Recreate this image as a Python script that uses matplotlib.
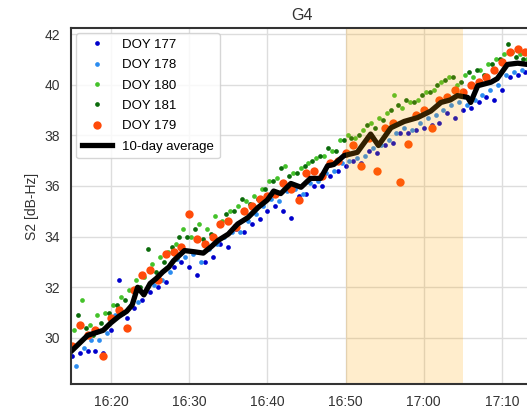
import datetime as dt
import matplotlib
matplotlib.use('Agg')
import matplotlib.pyplot as plt
import matplotlib.dates as mdates
import numpy as np

plt.rcParams['font.family'] = ['Liberation Sans', 'DejaVu Sans']

base = dt.datetime(2018, 6, 26, 16, 15)

# minutes after 16:15
avg_min = [0, 1, 2, 3, 4, 5, 6, 7, 7.7, 8.4, 9.2, 10.0, 10.8, 11.6, 12.4, 13.0, 14.4,
           15.7, 16.8, 17.8, 18.7, 20.0, 21.2, 22.5, 23.8, 25.0, 25.8, 26.7, 28.0, 29.3,
           30.5, 31.8, 32.7, 33.5, 34.8, 36.5, 38.2, 39.2, 40.8, 42.5, 44.2, 45.9, 47.2,
           48.4, 49.3, 50.6, 51.0, 51.9, 53.6, 54.4, 55.7, 57.0, 58.3]
avg_s2 = [29.5, 29.8, 30.1, 30.2, 30.3, 30.6, 30.85, 31.05, 31.3, 32.0, 31.7, 32.15, 32.35,
          32.6, 32.8, 33.05, 33.45, 33.4, 33.35, 33.6, 33.85, 34.1, 34.5, 34.75, 35.15,
          35.45, 35.8, 35.7, 36.1, 35.95, 36.3, 36.3, 36.8, 36.85, 37.2, 37.33, 38.05,
          37.6, 38.3, 38.55, 38.7, 38.96, 39.3, 39.4, 39.57, 39.5, 39.3, 39.96, 40.1,
          40.24, 40.8, 40.85, 40.8]

# one sample per minute, first epoch per day (minutes after 16:15)
doy177 = [29.3, 29.4, 29.5, 29.5, 29.4, 30.3, 32.3, 30.8, 31.2, 31.5, 31.8, 32.0, 32.2,
          32.8, 33.0, 32.8, 32.5, 33.0, 33.2, 33.7, 33.6, 34.3, 34.2, 34.5, 34.7, 35.0,
          35.2, 35.0, 34.75, 35.6, 35.7, 36.0, 36.0, 36.4, 36.6, 36.8, 37.0, 36.9, 37.4,
          37.3, 37.6, 37.7, 38.1, 38.1, 38.2, 38.3, 38.4, 38.5, 38.9, 38.7, 39.0, 39.1,
          39.3, 39.5, 39.4, 39.8, 40.3, 40.4, 40.5]
doy178 = [28.9, 29.6, 29.9, 29.9, 30.2, 30.9, 31.0, 31.3, 31.4, 31.9, 32.1, 32.3, 32.6,
          33.1, 33.2, 33.3, 33.0, 33.5, 33.7, 34.0, 34.2, 34.2, 34.6, 34.9, 35.2, 35.5,
          35.4, 35.8, 35.9, 35.7, 36.1, 36.2, 36.5, 36.6, 36.9, 37.0, 37.1, 37.2, 37.5,
          37.6, 37.8, 38.1, 38.3, 38.2, 38.5, 38.7, 38.8, 39.0, 39.2, 39.3, 39.2, 39.4,
          39.6, 39.8, 40.0, 40.4, 40.5, 40.6]
doy180 = [30.3, 31.5, 30.5, 30.9, 31.0, 31.3, 31.6, 31.9, 32.3, 32.4, 32.9, 33.2, 33.4,
          33.7, 34.3, 34.0, 34.5, 34.3, 34.8, 34.6, 35.0, 35.2, 35.4, 35.6, 35.9, 36.2,
          36.3, 36.8, 36.5, 36.7, 36.9, 37.1, 37.2, 37.4, 37.8, 38.0, 37.9, 38.2, 38.5,
          38.7, 38.9, 39.6, 39.1, 39.3, 39.4, 39.7, 39.8, 40.1, 40.3, 40.0, 40.4, 40.3,
          40.6, 40.8, 41.0, 41.2, 41.3, 41.2, 41.0]
doy181 = [30.9, 30.4, 30.1, 30.6, 31.0, 31.3, 31.5, 31.9, 32.0, 33.5, 32.6, 33.0, 33.6,
          34.0, 34.0, 34.3, 33.9, 34.1, 34.5, 34.9, 35.0, 35.5, 35.3, 35.5, 35.9, 36.2,
          36.7, 36.4, 36.5, 36.8, 37.0, 37.2, 37.5, 37.4, 37.8, 37.9, 38.0, 38.4, 38.3,
          38.6, 39.0, 39.2, 39.4, 39.3, 39.6, 39.7, 40.0, 40.2, 40.3, 40.1, 40.5, 40.6,
          40.4, 40.8, 41.0, 41.6, 41.1, 41.0]
doy179 = [29.7, 30.5, 30.1, 30.3, 29.3, 30.8, 31.1, 30.4, 31.9, 32.5, 32.7, 32.3, 33.3,
          33.4, 33.6, 34.9, 33.9, 33.7, 34.0, 34.5, 34.6, 34.4, 35.0, 35.2, 35.5, 35.6,
          35.7, 36.1, 35.9, 35.45, 36.5, 36.6, 36.4, 36.9, 37.0, 37.3, 37.6, 36.8, 37.9,
          36.6, 38.3, 38.5, 36.15, 37.65, 38.8, 39.0, 38.3, 39.4, 39.5, 39.8, 39.7, 40.0,
          40.1, 40.3, 40.6, 40.9, 41.3, 41.4, 41.3]
first_epoch = {'177': 0.0, '178': 0.5, '180': 0.25, '181': 0.75, '179': 0.0}

span_min = (35, 50)  # 16:50 - 17:05


def to_time(minutes):
    return [base + dt.timedelta(minutes=float(m)) for m in minutes]


def epochs(values, start):
    return to_time(start + np.arange(len(values)))


fig = plt.figure(figsize=(5.27, 4.12), dpi=100)
ax = fig.add_axes([71 / 527, 28 / 412, 462 / 527, 356 / 412])

ax.plot(epochs(doy177, first_epoch['177']), doy177, 'o', color='#0000cc', ms=3.4, mew=0, label='DOY 177')
ax.plot(epochs(doy178, first_epoch['178']), doy178, 'o', color='#2b8cf0', ms=3.4, mew=0, label='DOY 178')
ax.plot(epochs(doy180, first_epoch['180']), doy180, 'o', color='#44c22a', ms=3.4, mew=0, label='DOY 180')
ax.plot(epochs(doy181, first_epoch['181']), doy181, 'o', color='#0b6b0b', ms=3.4, mew=0, label='DOY 181')
ax.plot(epochs(doy179, first_epoch['179']), doy179, 'o', color='#ff4b0a', ms=6, mew=0, label='DOY 179')
ax.plot(to_time(avg_min), avg_s2, '-', color='black', lw=3.8, label='10-day average')

t0, t1 = to_time(span_min)
ax.axvspan(t0, t1, color='orange', alpha=0.2, lw=0, zorder=2.5)

ax.set_xlim(to_time([-0.12, 58.97]))
ax.set_ylim(28.18, 42.24)
ax.set_yticks([30, 32, 34, 36, 38, 40, 42])
ax.xaxis.set_major_locator(mdates.MinuteLocator(byminute=[0, 10, 20, 30, 40, 50]))
ax.xaxis.set_major_formatter(mdates.DateFormatter('%H:%M'))

ax.grid(True, color='#dddddd', lw=1)
ax.set_axisbelow(True)
for s in ax.spines.values():
    s.set_color('#333333')
    s.set_linewidth(1.5)
ax.tick_params(length=0, labelsize=10, colors='#333333', pad=8)

ax.set_ylabel('S2 [dB-Hz]', fontsize=10, color='#333333')
ax.set_title('G4', fontsize=11.5, color='#333333')
ax.legend(loc='upper left', fontsize=9.5, frameon=True, edgecolor='#cccccc',
          handlelength=2.3, labelspacing=0.62, borderaxespad=0.4)

fig.savefig('out.png', dpi=100)
